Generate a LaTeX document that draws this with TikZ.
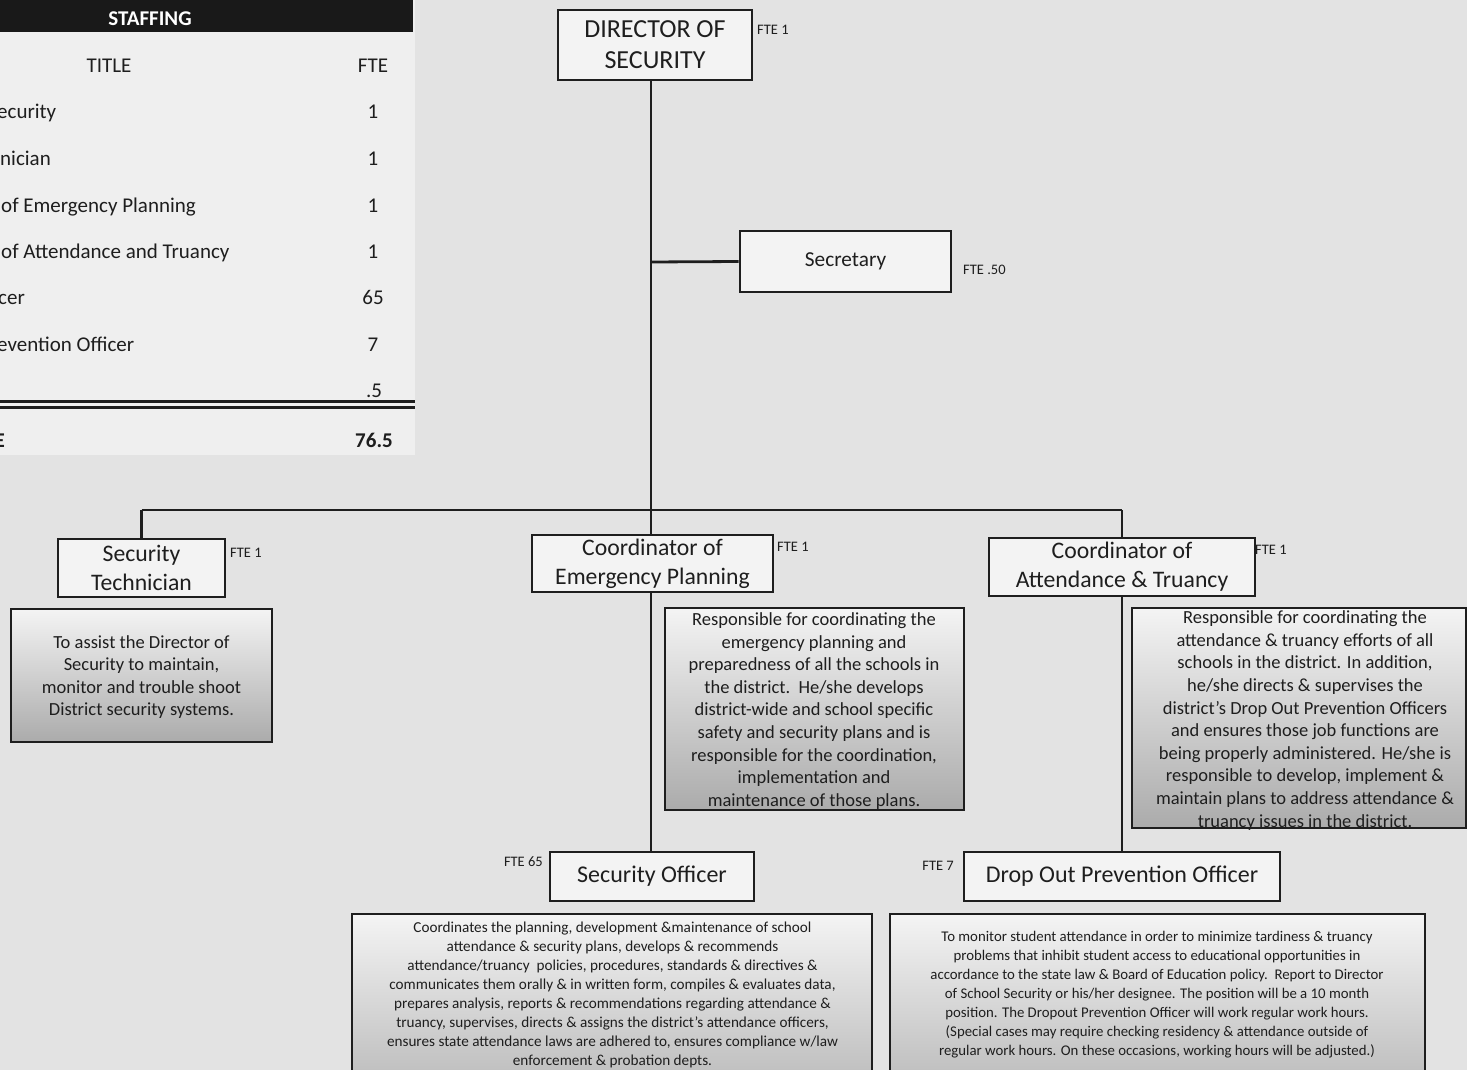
\documentclass[tikz,border=0pt]{standalone}
\usepackage{fontspec}
\setmainfont{Carlito}
\definecolor{ink}{HTML}{1E1E1E}
\definecolor{pagebg}{HTML}{E3E3E3}
\definecolor{tablebg}{HTML}{EFEFEF}
\definecolor{boxfill}{HTML}{F3F3F3}
\definecolor{shadetop}{HTML}{F4F4F4}
\definecolor{shadebot}{HTML}{ABABAB}
\definecolor{shadelow}{HTML}{BCBCBC}
\begin{document}
\begin{tikzpicture}[x=1pt,y=-1pt,
  rolebox/.style={draw=ink, line width=2.8pt, fill=boxfill, inner sep=0pt,
    align=center, text=ink, font=\fontsize{23.7}{29}\selectfont},
  descbox/.style={draw=ink, line width=2pt, top color=shadetop, bottom color=shadebot, inner sep=0pt},
  desctext/.style={align=center, inner sep=0pt, text=ink, font=\fontsize{18.5}{22.6}\selectfont},
  smalltext/.style={align=center, inner sep=0pt, text=ink, font=\fontsize{15.2}{19}\selectfont},
  fte/.style={inner sep=0pt, text=ink, font=\fontsize{14.5}{16}\selectfont},
  link/.style={draw=ink, line width=2.8pt},
  cell/.style={inner sep=0pt, text=ink, font=\fontsize{21}{24}\selectfont},
]
\useasboundingbox (0,0) rectangle (1467,1070);
\clip (0,0) rectangle (1467,1070);
\fill[pagebg] (0,0) rectangle (1467,1070);

% ---------- staffing table ----------
\fill[tablebg] (0,0) rectangle (415,455);
\fill[black!90] (0,0) rectangle (413,32);
\node[cell, text=white, font=\fontsize{21}{24}\bfseries] (hdr) at (150,19) {STAFFING};
\node[cell, anchor=base] (coltitle) at (109,73) {TITLE};
\node[cell, anchor=base] (colfte) at (373,73) {FTE};
\node[cell, anchor=base west] (r1) at (-3,119) {ecurity};
\node[cell, anchor=base west] (r2) at (0,165) {nician};
\node[cell, anchor=base west] (r3) at (1,212) {of Emergency Planning};
\node[cell, anchor=base west] (r4) at (1,258) {of Attendance and Truancy};
\node[cell, anchor=base west] (r5) at (-2,304) {cer};
\node[cell, anchor=base west] (r6) at (-3,351) {evention Officer};
\node[cell, anchor=base] (n1) at (373,119) {1};
\node[cell, anchor=base] (n2) at (373,165) {1};
\node[cell, anchor=base] (n3) at (373,212) {1};
\node[cell, anchor=base] (n4) at (373,258) {1};
\node[cell, anchor=base] (n5) at (373,304) {65};
\node[cell, anchor=base] (n6) at (373,351) {7};
\node[cell, anchor=base] (n7) at (374,397) {.5};
\draw[ink, line width=2.4pt] (0,401.5) -- (415,401.5);
\draw[ink, line width=2.4pt] (0,407.5) -- (415,407.5);
\node[cell, anchor=base east, font=\fontsize{21}{24}\bfseries] (rtot) at (5,447) {E};
\node[cell, anchor=base, font=\fontsize{21}{24}\bfseries] (ntot) at (374,447) {76.5};

% ---------- role boxes ----------
\node[rolebox, minimum width=194pt, minimum height=70pt, font=\fontsize{26}{31}\selectfont] (dir) at (655,45) {DIRECTOR OF\\SECURITY};
\node[rolebox, minimum width=211pt, minimum height=61pt, font=\fontsize{21.3}{26}\selectfont] (sec) at (845.5,261.5) {Secretary};
\node[rolebox, minimum width=167pt, minimum height=58pt] (tech) at (141.5,568) {Security\\Technician};
\node[rolebox, minimum width=241pt, minimum height=57pt] (cep) at (652.5,563.5) {Coordinator of\\Emergency Planning};
\node[rolebox, minimum width=266pt, minimum height=58pt] (cat) at (1122,567) {Coordinator of\\Attendance \& Truancy};
\node[rolebox, minimum width=204pt, minimum height=49pt, font=\fontsize{24}{29}\selectfont] (so) at (652,876.5) {Security Officer};
\node[rolebox, minimum width=316pt, minimum height=49pt, font=\fontsize{24}{29}\selectfont] (dop) at (1122,876.5) {Drop Out Prevention Officer};

% ---------- FTE labels ----------
\node[fte, anchor=west] (fdir) at (757,30) {FTE 1};
\node[fte, anchor=west] (fsec) at (963,270) {FTE .50};
\node[fte, anchor=west] (ftech) at (230,553) {FTE 1};
\node[fte, anchor=west] (fcep) at (777,547) {FTE 1};
\node[fte, anchor=west] (fcat) at (1255,550) {FTE 1};
\node[fte, anchor=east] (fso) at (543,862) {FTE 65};
\node[fte, anchor=east] (fdop) at (954,866) {FTE 7};

% ---------- connectors ----------
\coordinate (trunk) at (651,510);
\coordinate (tap) at (651,262);
\coordinate (busL) at (141.5,510);
\coordinate (busR) at (1122,510);
\path[link] (dir.south -| trunk) -- (trunk);
\path[link] (tap) -- (sec.west);
\path[link] (busL) -- (busR);
\path[link] (busL) -- (tech.north);
\path[link] (trunk) -- (cep.north -| trunk);
\path[link] (busR) -- (cat.north);
\path[link] (cep.south -| trunk) -- (so.north -| trunk);
\path[link] (cat.south) -- (dop.north);

% ---------- descriptions ----------
\node[descbox, minimum width=261pt, minimum height=133pt] (techd) at (141.5,675.5) {};
\node[desctext] (techt) at (141.5,677) {To assist the Director of\\Security to maintain,\\monitor and trouble shoot\\District security systems.};

\node[descbox, minimum width=299pt, minimum height=202pt] (cepd) at (814.5,709) {};
\node[desctext] (cept) at (814,711) {Responsible for coordinating the\\emergency planning and\\preparedness of all the schools in\\the district.\ \ He/she develops\\district-wide and school specific\\safety and security plans and is\\responsible for the coordination,\\implementation and\\maintenance of those plans.};

\node[descbox, minimum width=334pt, minimum height=220pt] (catd) at (1299,718) {};
\node[desctext] (catt) at (1305,720.5) {Responsible for coordinating the\\attendance \& truancy efforts of all\\schools in the district. In addition,\\he/she directs \& supervises the\\district’s Drop Out Prevention Officers\\and ensures those job functions are\\being properly administered. He/she is\\responsible to develop, implement \&\\maintain plans to address attendance \&\\truancy issues in the district.};

\node[descbox, bottom color=shadelow, minimum width=520pt, minimum height=171pt] (sod) at (612,999.5) {};
\node[smalltext] (sot) at (612.5,994.5) {Coordinates the planning, development \&maintenance of school\\attendance \& security plans, develops \& recommends\\attendance/truancy\ \ policies, procedures, standards \& directives \&\\communicates them orally \& in written form, compiles \& evaluates data,\\prepares analysis, reports \& recommendations regarding attendance \&\\truancy, supervises, directs \& assigns the district’s attendance officers,\\ensures state attendance laws are adhered to, ensures compliance w/law\\enforcement \& probation depts.};

\node[descbox, bottom color=shadelow, minimum width=535pt, minimum height=171pt] (dopd) at (1157.5,999.5) {};
\node[smalltext, font=\fontsize{14.8}{19}\selectfont] (dopt) at (1157,995) {To monitor student attendance in order to minimize tardiness \& truancy\\problems that inhibit student access to educational opportunities in\\accordance to the state law \& Board of Education policy.\ \ Report to Director\\of School Security or his/her designee. The position will be a 10 month\\position. The Dropout Prevention Officer will work regular work hours.\\(Special cases may require checking residency \& attendance outside of\\regular work hours. On these occasions, working hours will be adjusted.)};
\end{tikzpicture}
\end{document}
